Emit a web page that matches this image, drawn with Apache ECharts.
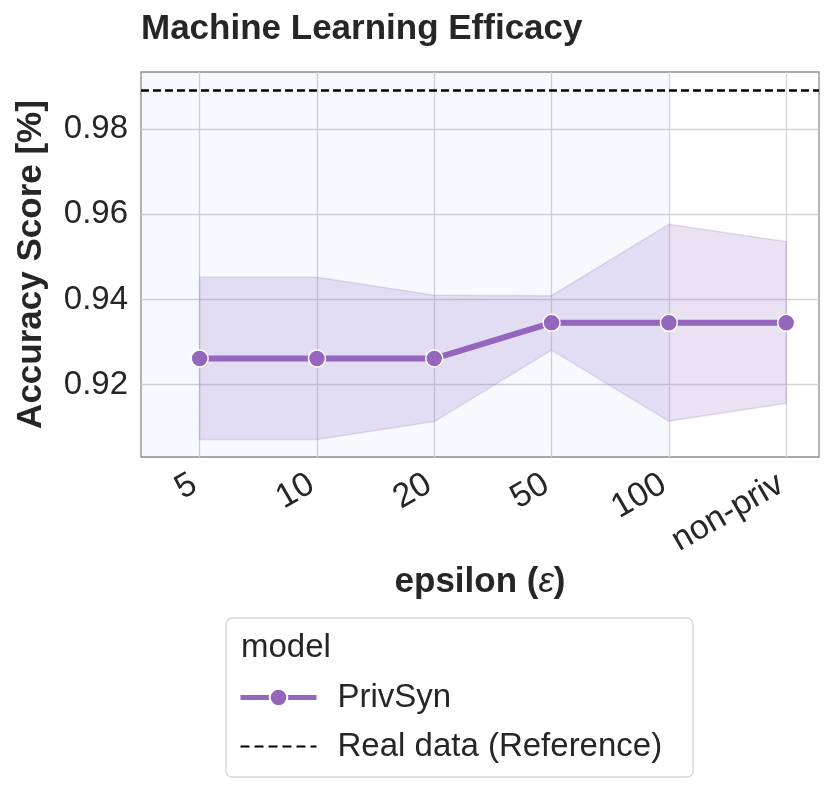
<!DOCTYPE html>
<html>
<head>
<meta charset="utf-8">
<style>
  html, body { margin: 0; padding: 0; background: #fff; }
  #chart { width: 831px; height: 790px; }
</style>
<script src="https://cdn.jsdelivr.net/npm/echarts@6/dist/echarts.min.js"></script>
</head>
<body>
<div id="chart"></div>
<script>
// data
var categories = ['5', '10', '20', '50', '100', 'non-priv'];
var privSyn = [0.9261, 0.9261, 0.9261, 0.9345, 0.9345, 0.9345];
var bandUpper = [0.9452, 0.9452, 0.9410, 0.9409, 0.9577, 0.9536];
var bandLower = [0.9071, 0.9071, 0.9113, 0.9281, 0.9114, 0.9156];
var realData = 0.9893;
var yTicks = [0.92, 0.94, 0.96, 0.98];

var xPos = categories.map(function (c, i) { return i; });
var xMin = -0.5, xMax = 5.28;
var purple = '#9467bd';
var textColor = '#262626';
var font = '"Liberation Sans", Arial, sans-serif';

var myChart = echarts.init(document.getElementById('chart'));

var option = {
  animation: false,
  title: {
    text: 'Machine Learning Efficacy',
    left: 141,
    top: 12,
    padding: 0,
    textStyle: { fontFamily: font, fontSize: 35, fontWeight: 'bold', color: textColor }
  },
  grid: {
    left: 141, right: 12, top: 72, bottom: 333,
    show: true,
    borderColor: '#8c8c8c',
    borderWidth: 1.3,
    backgroundColor: 'transparent'
  },
  legend: {
    orient: 'vertical',
    left: 233,
    top: 676,
    itemWidth: 76,
    itemHeight: 22,
    itemGap: 16,
    data: [
      { name: 'PrivSyn', lineStyle: { width: 5 } },
      { name: 'Real data (Reference)', itemStyle: { opacity: 0 }, lineStyle: { width: 2, type: [9, 5] } }
    ],
    textStyle: { fontFamily: font, fontSize: 33, color: textColor, padding: [0, 0, 0, 16] }
  },
  graphic: [
    {
      type: 'rect',
      shape: { x: 226, y: 618, width: 467, height: 159, r: 6 },
      style: { fill: '#fff', stroke: '#d6d6d6', lineWidth: 1.3 },
      z: -1
    },
    {
      type: 'text',
      left: 241,
      top: 631,
      style: { text: 'model', fontFamily: font, fontSize: 33, fill: textColor }
    }
  ],
  xAxis: {
    type: 'value',
    min: xMin,
    max: xMax,
    name: '{b|epsilon (}{e|ε}{b|)}',
    nameLocation: 'middle',
    nameGap: 108,
    nameTextStyle: {
      rich: {
        b: { fontFamily: font, fontSize: 35, fontWeight: 'bold', color: textColor },
        e: { fontFamily: font, fontSize: 35, fontStyle: 'italic', color: textColor }
      }
    },
    axisLine: { show: false },
    axisTick: { show: false, customValues: xPos },
    axisLabel: {
      customValues: xPos,
      rotate: 30,
      margin: 22,
      padding: [0, 6, 0, 0],
      fontFamily: font,
      fontSize: 34,
      color: textColor,
      formatter: function (v) { return categories[Math.round(v)]; }
    },
    splitLine: { show: true, lineStyle: { color: '#d3d3d8', width: 1.3 } }
  },
  yAxis: {
    type: 'value',
    min: 0.90296,
    max: 0.99348,
    name: 'Accuracy Score [%]',
    nameLocation: 'middle',
    nameGap: 92,
    nameTextStyle: { fontFamily: font, fontSize: 35, fontWeight: 'bold', color: textColor },
    axisLine: { show: false },
    axisTick: { show: false, customValues: yTicks },
    axisLabel: {
      customValues: yTicks,
      margin: 13,
      fontFamily: font,
      fontSize: 33,
      color: textColor,
      formatter: function (v) { return v.toFixed(2); }
    },
    splitLine: { show: true, lineStyle: { color: '#d3d3d8', width: 1.3 } }
  },
  series: [
    {
      name: 'band',
      type: 'custom',
      z: 2,
      silent: true,
      data: xPos.map(function (x, i) { return [x, bandLower[i], bandUpper[i]]; }),
      encode: { x: 0, y: [1, 2] },
      renderItem: function (params, api) {
        if (params.dataIndex !== 0) return;
        var pts = [];
        for (var i = 0; i < xPos.length; i++) pts.push(api.coord([xPos[i], bandUpper[i]]));
        for (var j = xPos.length - 1; j >= 0; j--) pts.push(api.coord([xPos[j], bandLower[j]]));
        return {
          type: 'polygon',
          shape: { points: pts },
          style: { fill: 'rgba(148,103,189,0.2)', stroke: 'rgba(148,103,189,0.22)', lineWidth: 1.5 }
        };
      },
      markArea: {
        silent: true,
        itemStyle: { color: 'rgba(30,120,255,0.04)' },
        data: [[{ xAxis: xMin }, { xAxis: xPos[4] }]]
      }
    },
    {
      name: 'PrivSyn',
      type: 'line',
      z: 4,
      data: xPos.map(function (x, i) { return [x, privSyn[i]]; }),
      symbol: 'circle',
      symbolSize: 17,
      lineStyle: { color: purple, width: 6 },
      itemStyle: { color: purple, borderColor: '#fff', borderWidth: 1.5 }
    },
    {
      name: 'Real data (Reference)',
      type: 'line',
      z: 3,
      data: [],
      symbol: 'none',
      lineStyle: { color: '#000', width: 2, type: [7, 4] },
      itemStyle: { color: '#000' },
      markLine: {
        silent: true,
        symbol: 'none',
        precision: 6,
        label: { show: false },
        lineStyle: { color: '#000', width: 2.5, type: [8, 4] },
        data: [{ yAxis: realData }]
      }
    }
  ]
};

myChart.setOption(option);
window.addEventListener('resize', function () {
  myChart.resize();
});
</script>
</body>
</html>
